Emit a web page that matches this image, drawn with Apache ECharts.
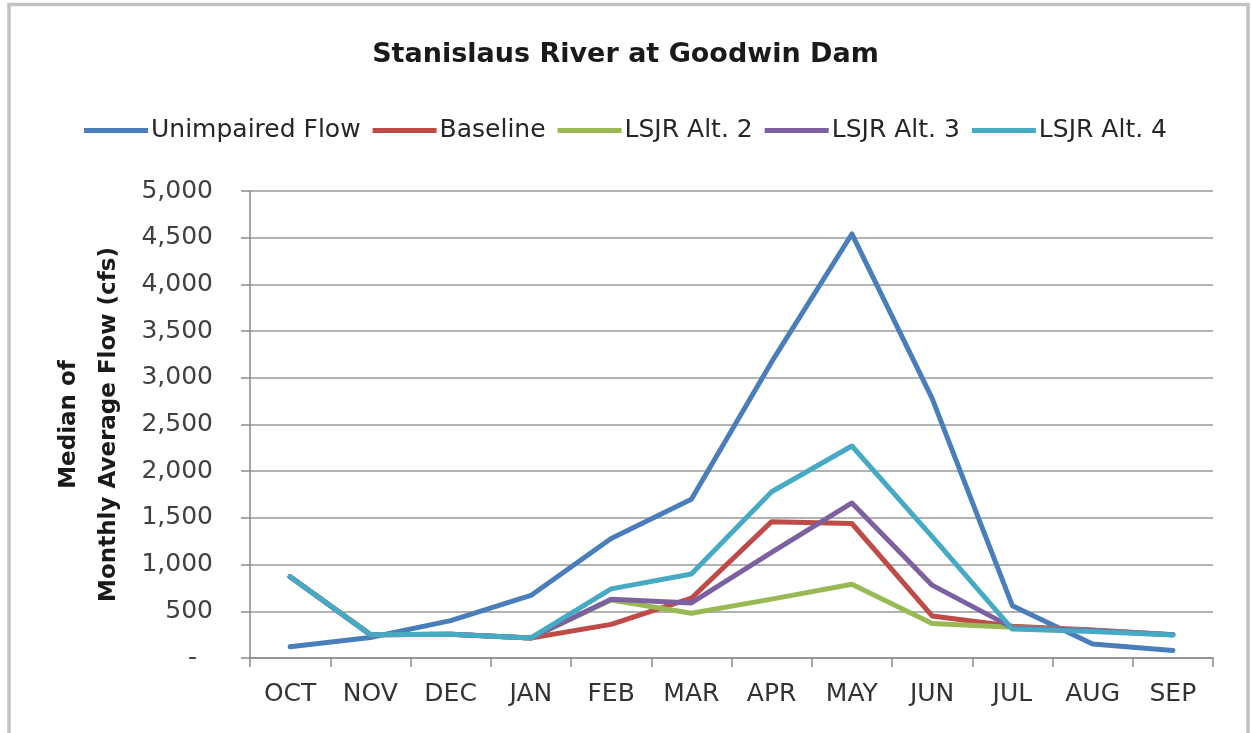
<!DOCTYPE html>
<html>
<head>
<meta charset="utf-8">
<title>Stanislaus River at Goodwin Dam</title>
<script src="https://cdn.jsdelivr.net/npm/echarts@6/dist/echarts.min.js"></script>
<style>
  html, body { margin: 0; padding: 0; background: #ffffff; }
  #chart { width: 1251px; height: 733px; }
</style>
</head>
<body>
<div id="chart"></div>
<script>
// Months of the water year
const months = ['OCT', 'NOV', 'DEC', 'JAN', 'FEB', 'MAR', 'APR', 'MAY', 'JUN', 'JUL', 'AUG', 'SEP'];

// Median of monthly average flow (cfs)
const unimpairedFlow = [120, 220, 400, 670, 1280, 1700, 3170, 4540, 2780, 560, 150, 80];
const baseline       = [870, 250, 255, 215, 360, 640, 1460, 1440, 450, 340, 300, 250];
const lsjrAlt2       = [870, 250, 255, 215, 620, 480, 630, 790, 370, 330, 295, 250];
const lsjrAlt3       = [870, 250, 255, 215, 630, 590, 1130, 1660, 780, 325, 295, 250];
const lsjrAlt4       = [870, 250, 255, 215, 740, 900, 1780, 2270, 1300, 310, 285, 245];

const yTicks = [0, 500, 1000, 1500, 2000, 2500, 3000, 3500, 4000, 4500, 5000];

const seriesDefs = [
  { name: 'Unimpaired Flow', data: unimpairedFlow, color: '#4a7ebb' },
  { name: 'Baseline',        data: baseline,       color: '#be4b48' },
  { name: 'LSJR Alt. 2',     data: lsjrAlt2,       color: '#98b954' },
  { name: 'LSJR Alt. 3',     data: lsjrAlt3,       color: '#7d60a0' },
  { name: 'LSJR Alt. 4',     data: lsjrAlt4,       color: '#46aac5' }
];

const font = 'DejaVu Sans';
const chart = echarts.init(document.getElementById('chart'), null, { renderer: 'canvas' });

chart.setOption({
  backgroundColor: '#ffffff',
  animation: false,
  graphic: [{
    type: 'rect',
    z: -10,
    silent: true,
    shape: { x: 9, y: 4.5, width: 1239, height: 800 },
    style: { fill: 'none', stroke: '#c2c2c2', lineWidth: 3.5 }
  }],
  title: {
    text: 'Stanislaus River at Goodwin Dam',
    left: 'center',
    top: 36,
    textStyle: { fontFamily: font, fontSize: 27, fontWeight: 'bold', color: '#1a1a1a' }
  },
  legend: {
    top: 113,
    left: 'center',
    itemWidth: 64,
    itemHeight: 5,
    itemGap: 12,
    icon: 'rect',
    textStyle: { fontFamily: font, fontSize: 25, color: '#262626', padding: [0, 0, 0, -2] },
    data: seriesDefs.map(s => s.name)
  },
  grid: { left: 250, right: 38, top: 191, bottom: 75, containLabel: false },
  xAxis: {
    type: 'category',
    data: months,
    boundaryGap: true,
    axisLine: { show: true, lineStyle: { color: '#8a8a8a', width: 1.5 } },
    axisTick: { show: true, length: 9, alignWithLabel: false, lineStyle: { color: '#8a8a8a', width: 1.5 } },
    axisLabel: { margin: 24, fontFamily: font, fontSize: 25, color: '#333333' },
    splitLine: { show: false }
  },
  yAxis: {
    type: 'value',
    min: yTicks[0],
    max: yTicks[yTicks.length - 1],
    interval: yTicks[1] - yTicks[0],
    name: 'Median of\nMonthly Average Flow (cfs)',
    nameLocation: 'middle',
    nameRotate: 90,
    nameGap: 121,
    nameTextStyle: { fontFamily: font, fontSize: 23, fontWeight: 'bold', color: '#1a1a1a', lineHeight: 40 },
    axisLine: { show: true, lineStyle: { color: '#8a8a8a', width: 1.5 } },
    axisTick: { show: true, length: 9, lineStyle: { color: '#8a8a8a', width: 1.5 } },
    axisLabel: {
      margin: 37,
      fontFamily: font,
      fontSize: 25,
      color: '#404040',
      formatter: v => v === 0 ? '-  ' : v.toLocaleString('en-US')
    },
    splitLine: { show: true, lineStyle: { color: '#999999', width: 1.5 } }
  },
  series: seriesDefs.map(s => ({
    name: s.name,
    type: 'line',
    data: s.data,
    symbol: 'none',
    smooth: false,
    itemStyle: { color: s.color },
    lineStyle: { color: s.color, width: 5, join: 'round', cap: 'round' }
  }))
});
</script>
</body>
</html>
